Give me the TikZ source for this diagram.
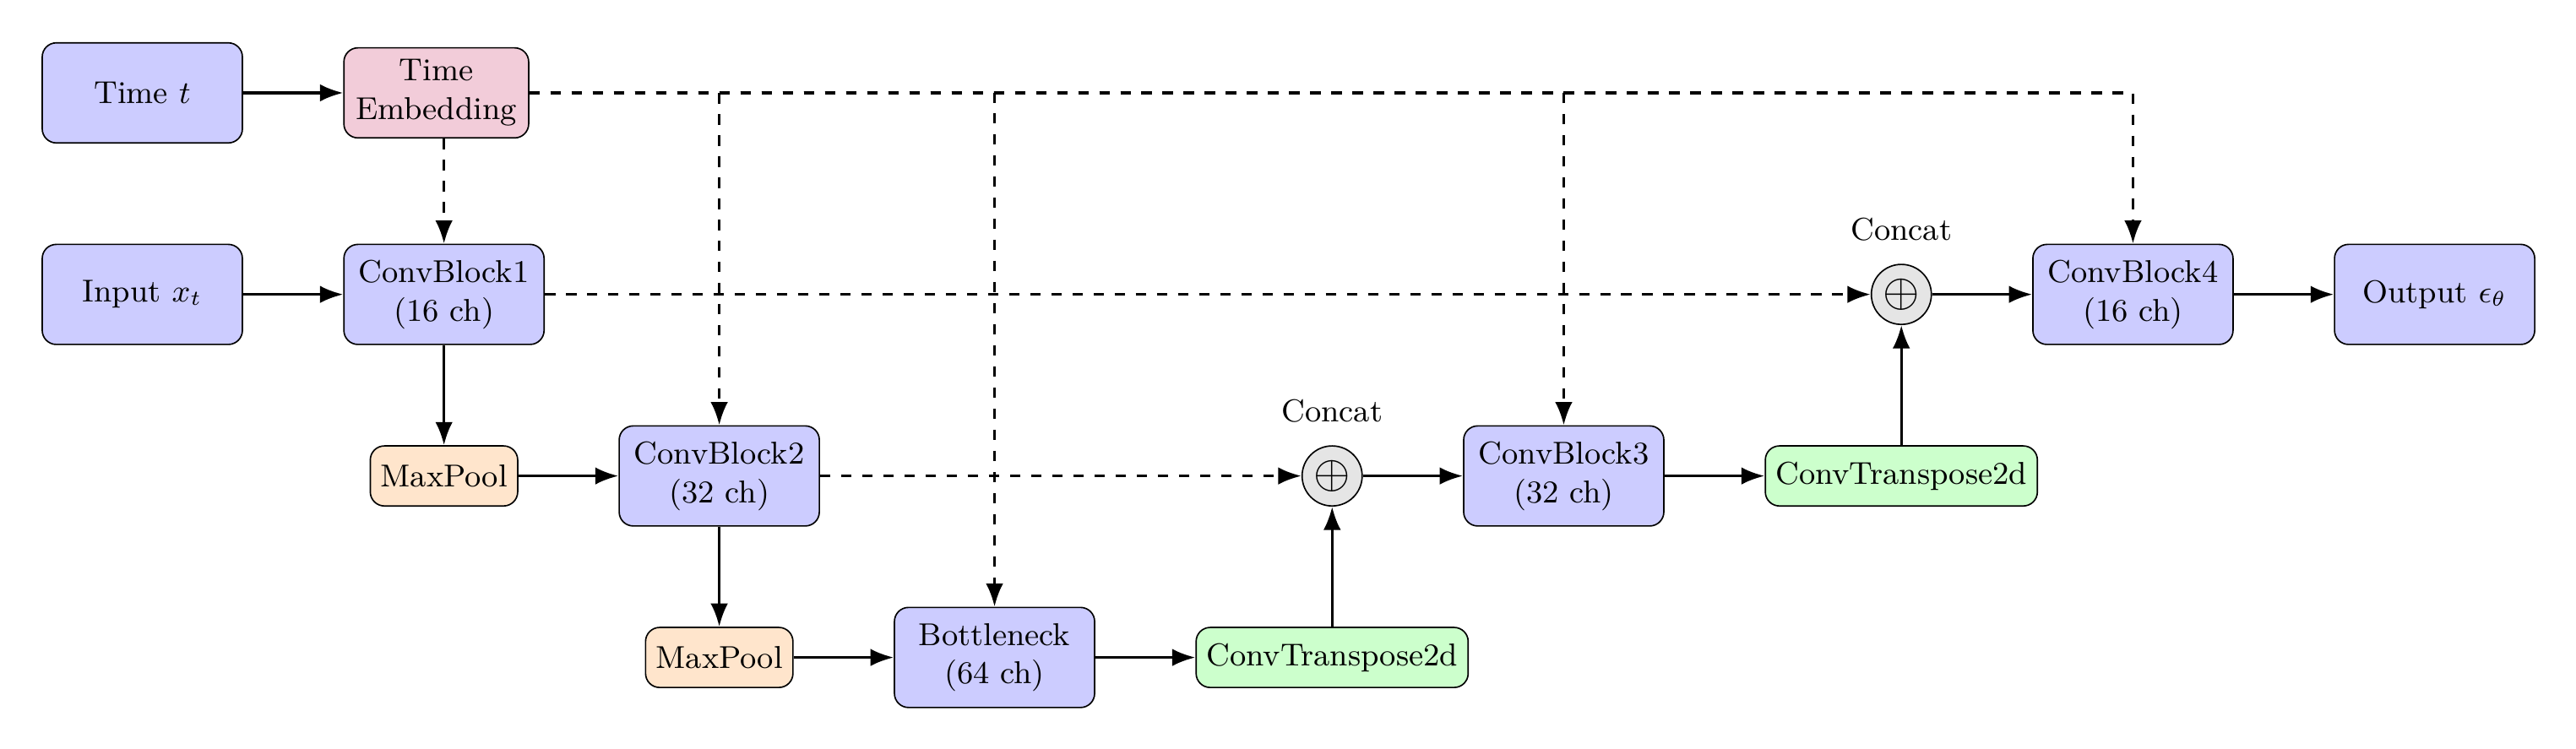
\documentclass[tikz,border=0pt]{standalone}
\usepackage{graphicx}
\usetikzlibrary{positioning,arrows.meta,shapes.geometric}
\begin{document}
\begin{tikzpicture}[
  node distance=1cm,
  every node/.style={font=\small},
  blk/.style={draw, rounded corners, fill=blue!20, minimum width=2cm, minimum height=1cm, align=center},
  emb/.style={draw, rounded corners, fill=purple!20, align=center},
  poolbox/.style={draw, rounded corners, fill=orange!20, minimum height=0.6cm, inner xsep=2.9pt},
  upbox/.style={draw, rounded corners, fill=green!20, minimum height=0.6cm, inner xsep=2.9pt},
  catnode/.style={draw, circle, fill=gray!20, minimum size=0.6cm, inner sep=0pt,
    label={[label distance=3pt]above:Concat}},
  arr/.style={-{Latex}, thick},
  darr/.style={-{Latex}, thick, dashed},
]
\useasboundingbox (-1.422,-6.549) rectangle (24.316,0.928);
\node[blk] (time) at (0,0) {Time $t$};
\node[emb, right=of time] (temb) {Time\\Embedding};
\node[blk, below=of time] (input) {Input $x_t$};
\node[blk, right=of input] (c1) {ConvBlock1\\(16 ch)};
\node[poolbox, below=of c1] (p1) {MaxPool};
\node[blk, right=of p1] (c2) {ConvBlock2\\(32 ch)};
\node[poolbox, below=of c2] (p2) {MaxPool};
\node[blk, right=of p2] (bn) {Bottleneck\\(64 ch)};
\node[upbox, right=of bn] (u1) {ConvTranspose2d};
\node[catnode] (k1) at (u1 |- c2) {\scalebox{1.45}{$\oplus$}};
\node[blk, right=of k1] (c3) {ConvBlock3\\(32 ch)};
\node[upbox, right=of c3] (u2) {ConvTranspose2d};
\node[catnode] (k2) at (u2 |- c1) {\scalebox{1.45}{$\oplus$}};
\node[blk, right=of k2] (c4) {ConvBlock4\\(16 ch)};
\node[blk, right=of c4] (out) {Output $\epsilon_\theta$};

\draw[arr] (time) -- (temb);
\draw[arr] (input) -- (c1);
\draw[arr] (c1) -- (p1);
\draw[arr] (p1) -- (c2);
\draw[arr] (c2) -- (p2);
\draw[arr] (p2) -- (bn);
\draw[arr] (bn) -- (u1);
\draw[arr] (u1) -- (k1);
\draw[arr] (k1) -- (c3);
\draw[arr] (c3) -- (u2);
\draw[arr] (u2) -- (k2);
\draw[arr] (k2) -- (c4);
\draw[arr] (c4) -- (out);

\draw[darr] (temb.south -| c1.north) -- (c1.north);
\draw[darr] (temb.east) -| (c2.north);
\draw[darr] (temb.east) -| (bn.north);
\draw[darr] (temb.east) -| (c3.north);
\draw[darr] (temb.east) -| (c4.north);
\draw[darr] (c1) -- (k2);
\draw[darr] (c2) -- (k1);
\end{tikzpicture}
\end{document}
